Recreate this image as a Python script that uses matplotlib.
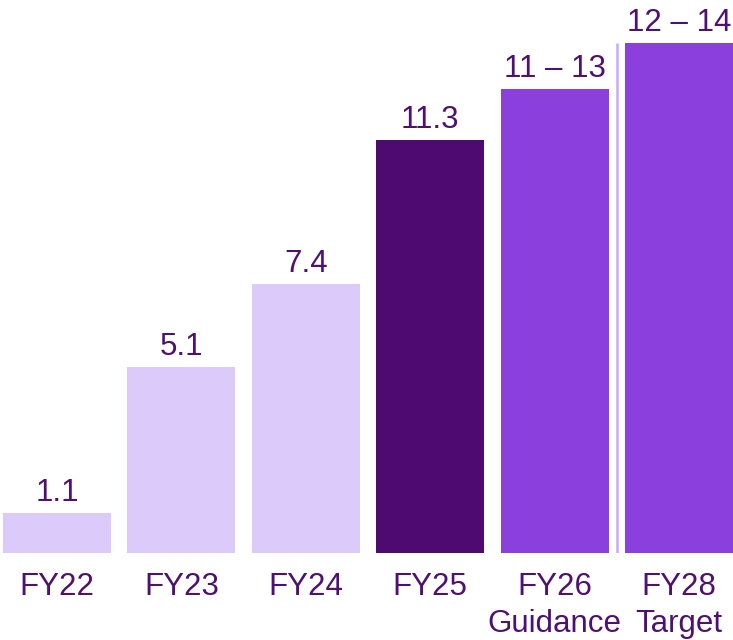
import matplotlib
matplotlib.use("Agg")
import matplotlib.pyplot as plt

categories = ["FY22", "FY23", "FY24", "FY25", "FY26", "FY28"]
sublabels = ["", "", "", "", "Guidance", "Target"]
values = [1.1, 5.1, 7.4, 11.35, 12.75, 14.0]
value_labels = ["1.1", "5.1", "7.4", "11.3", "11 – 13", "12 – 14"]

light = "#dccbfa"
dark = "#4f0a72"
mid = "#8b40dd"
text_color = "#4f0f73"
colors = [light, light, light, dark, mid, mid]

plt.rcParams['font.family'] = ['Liberation Sans', 'DejaVu Sans']

fig = plt.figure(figsize=(7.33, 6.4), dpi=100)
ax = fig.add_axes([0, 87 / 640, 1, 553 / 640])
x = list(range(len(categories)))
ax.bar(x, values, width=0.868, color=colors, linewidth=0)
ax.set_xlim(-0.458, 5.434)
ax.set_ylim(0, 15.19)
ax.axis('off')

fs = 22.5
for xi, v, lab in zip(x, values, value_labels):
    ax.annotate(lab, (xi, v), xytext=(0, 8.6), textcoords='offset points',
                ha='center', va='baseline', fontsize=fs, color=text_color)

for xi, c, s in zip(x, categories, sublabels):
    ax.annotate(c, (xi, 0), xytext=(0, -30.2), textcoords='offset points',
                ha='center', va='baseline', fontsize=fs, color=text_color,
                annotation_clip=False)
    if s:
        ax.annotate(s, (xi, 0), xytext=(0, -56.9), textcoords='offset points',
                    ha='center', va='baseline', fontsize=fs, color=text_color,
                    annotation_clip=False)

ax.plot([4.5, 4.5], [0, 14.0], color="#c9a9f9", linewidth=1.8, solid_capstyle='butt')

fig.savefig("out.png", dpi=100)
